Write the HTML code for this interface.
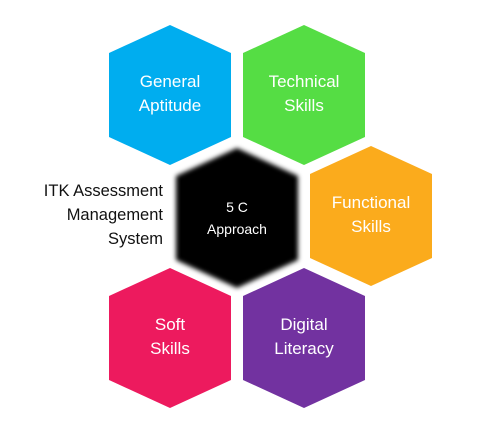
<!DOCTYPE html>
<html><head><meta charset="utf-8"><style>
html,body{margin:0;padding:0;background:#fff;}
svg text{font-family:"Liberation Sans",sans-serif;}
</style></head><body>
<svg width="485" height="440" viewBox="0 0 485 440">
<defs><filter id="blur" x="-20%" y="-20%" width="140%" height="140%"><feGaussianBlur stdDeviation="2.5"/></filter></defs>
<g id="hexes"></g>
<g font-size="16.5" fill="#111" text-anchor="end">
<text x="163" y="196">ITK Assessment</text>
<text x="163" y="220">Management</text>
<text x="163" y="244">System</text>
</g>
</svg>
<script>
const names=['general-aptitude-hex','technical-skills-hex','functional-skills-hex','center-approach-hex','soft-skills-hex','digital-literacy-hex'];
const cx=[170,304,371,237,170,304];
const cy=[95,95,216,218,338,338];
const colors=['#00adef','#55dd44','#fbab1c','#000000','#ed1a5e','#7232a0'];
const line1=['General','Technical','Functional','5 C','Soft','Digital'];
const line2=['Aptitude','Skills','Skills','Approach','Skills','Literacy'];
const g=document.getElementById('hexes');
const NS='http://www.w3.org/2000/svg';
for(let i=0;i<cx.length;i++){
  const w=61,h=70,s=42;
  const x=cx[i],y=cy[i];
  const pts=[[x,y-h],[x+w,y-s],[x+w,y+s],[x,y+h],[x-w,y+s],[x-w,y-s]].map(p=>p.join(',')).join(' ');
  const p=document.createElementNS(NS,'polygon');
  p.setAttribute('points',pts);
  p.setAttribute('fill',colors[i]);
  if(i===3)p.setAttribute('filter','url(#blur)');
  
  
  g.appendChild(p);
  const small=i===3;
  const fs=small?14:17;
  [line1[i],line2[i]].forEach((t,j)=>{
    const tx=document.createElementNS(NS,'text');
    tx.setAttribute('x',x);
    tx.setAttribute('y',y+(j===0?-6:(small?16:18))+(small?0:-2));
    tx.setAttribute('text-anchor','middle');
    tx.setAttribute('fill','#fff');
    tx.setAttribute('font-size',fs);
    
    
    tx.textContent=t;
    g.appendChild(tx);
  });
}
</script>
</body></html>
